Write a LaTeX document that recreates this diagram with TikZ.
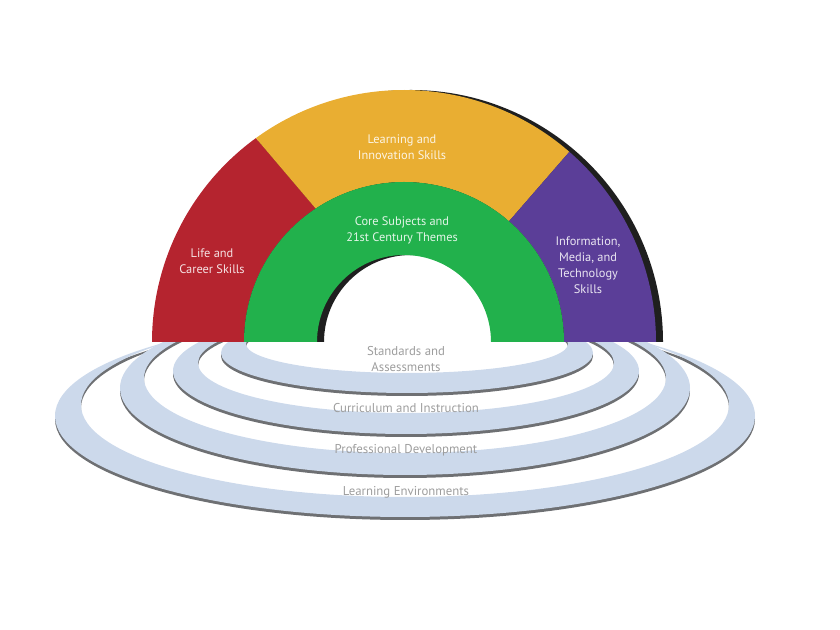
\documentclass[tikz,border=0pt]{standalone}
\usepackage{fontspec}
\setmainfont{PT Sans}
\usetikzlibrary{calc}

\definecolor{lifered}{HTML}{B5242F}
\definecolor{innoyellow}{HTML}{E9AE32}
\definecolor{mediapurple}{HTML}{5B3E98}
\definecolor{coregreen}{HTML}{22B14C}
\definecolor{ringblue}{HTML}{CCD9EB}
\definecolor{ringedge}{HTML}{6E7073}
\definecolor{ringtext}{HTML}{9D9D9D}

% flat ring: outer centre, outer radii, inner centre, inner radii
\def\planring(#1)(#2:#3)(#4)(#5:#6){%
	\fill[ringedge, even odd rule] ($(#1)+(0,-3)$) ellipse (#2 and #3) ($(#4)+(0,-3)$) ellipse (#5 and #6);
	\fill[ringblue, even odd rule] (#1) ellipse (#2 and #3) (#4) ellipse (#5 and #6);}

\tikzset{
	archtext/.style={text=white, text opacity=0.87, align=center, inner sep=0pt, font=\fontsize{8.8}{11.3}\selectfont},
	ringlabel/.style={text=ringtext, align=center, inner sep=0pt, font=\fontsize{9.1}{11.3}\selectfont}
}

\begin{document}
\begin{tikzpicture}[x=0.025cm, y=0.025cm]
			%%%%% START %%%%%
			\useasboundingbox (0,0) rectangle (840,630);
			\coordinate (C) at (404,288);
			
			% rings under the arch
			\begin{scope}
				\clip (0,0) rectangle (840,288);
				\planring(405,214)(350:101)(405,225)(324:92)
				\planring(405,242)(285:87)(405,252)(261:75)
				\planring(406,259)(233:63)(406,267)(208:50)
				\planring(407,277)(186:40)(407,286)(161:29)
			\end{scope}
			
			% dark side of the arch
			\fill[black!88] ($(C)+(7,0)+(180:252)$) arc[start angle=180, end angle=0, radius=252]
				-- ($(C)+(7,0)+(0:87)$) arc[start angle=0, end angle=180, radius=87] -- cycle;
			
			\fill[lifered] ($(C)+(180:252)$) arc[start angle=180, end angle=126, radius=252]
				-- ($(C)+(123.5:160)$) arc[start angle=123.5, end angle=180, radius=160] -- cycle;
			\fill[innoyellow] ($(C)+(126:252)$) arc[start angle=126, end angle=49, radius=252]
				-- ($(C)+(49:160)$) arc[start angle=49, end angle=123.5, radius=160] -- cycle;
			\fill[mediapurple] ($(C)+(49:252)$) arc[start angle=49, end angle=0, radius=252]
				-- ($(C)+(0:160)$) arc[start angle=0, end angle=49, radius=160] -- cycle;
			\fill[coregreen] ($(C)+(180:160)$) arc[start angle=180, end angle=0, radius=160]
				-- ($(C)+(0:87)$) arc[start angle=0, end angle=180, radius=87] -- cycle;
			
			\node[archtext] (life) at (212,369) {Life and\\Career Skills};
			\node[archtext] (innovation) at (402,482.5) {Learning and\\Innovation Skills};
			\node[archtext] (core) at (402,400) {Core Subjects and\\21st Century Themes};
			\node[archtext] (media) at (588,364.5) {Information,\\Media, and\\Technology\\Skills};
			
			\node[ringlabel] (standards) at (406,271) {Standards and\\Assessments};
			\node[ringlabel] (curriculum) at (406,222) {Curriculum and Instruction};
			\node[ringlabel] (profdev) at (406,180) {Professional Development};
			\node[ringlabel] (environments) at (406,138) {Learning Environments};
			%%%%% END %%%%%
\end{tikzpicture}
\end{document}
